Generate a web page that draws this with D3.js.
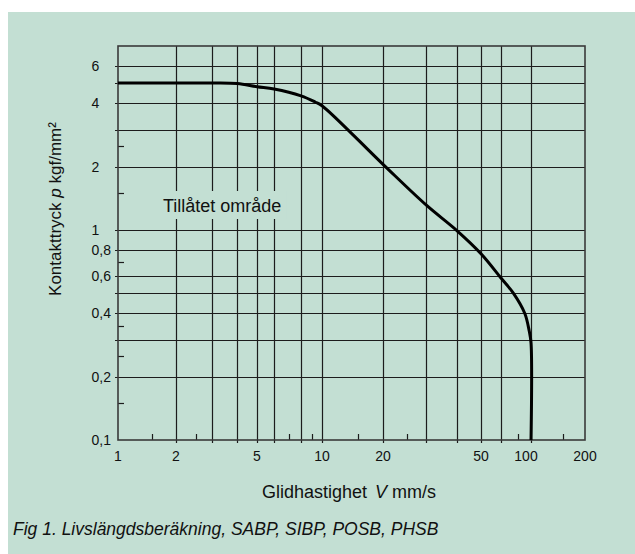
<!DOCTYPE html>
<html>
<head>
<meta charset="utf-8">
<script src="https://cdn.jsdelivr.net/npm/d3@7"></script>
<style>
  html, body { margin: 0; padding: 0; background: #ffffff; }
  svg { display: block; }
  text { font-family: "Liberation Sans", Arial, sans-serif; fill: #111111; }
</style>
</head>
<body>
<svg id="chart" width="635" height="554"></svg>
<script>
// ---- data ----
const xLabelValues = [1, 2, 5, 10, 20, 50, 100, 200];
const xGridValues  = [2, 3, 4, 5, 6, 8, 10, 20, 30, 40, 50, 60, 100];
const xMinorTicks  = [1.5, 2.5, 7, 9, 15, 25, 80, 150];
const yLabelValues = [0.1, 0.2, 0.4, 0.6, 0.8, 1, 2, 4, 6];
const yGridValues  = [0.2, 0.3, 0.4, 0.5, 0.6, 0.8, 1, 2, 3, 4, 5, 6];
const yMinorTicks  = [0.15, 0.25, 0.35, 0.7, 1.5, 2.5];
// permissible curve: sliding speed V (mm/s) vs contact pressure p (kgf/mm²)
const curveV = [1, 3, 4, 5, 6, 8, 9.3, 10, 20, 30, 40, 50, 60, 74, 90, 97, 100, 100];
const curveP = [5, 5, 4.97, 4.8, 4.68, 4.34, 4.06, 3.9, 2.05, 1.31, 0.99, 0.77, 0.59, 0.5, 0.4, 0.33, 0.29, 0.1];
const xTitle = "Glidhastighet";
const xTitleVar = "V";
const xTitleUnit = " mm/s";
const yTitle = "Kontakttryck ";
const yTitleVar = "p";
const yTitleUnit = " kgf/mm²";
const regionLabel = "Tillåtet område";
const caption = "Fig 1. Livslängdsberäkning, SABP, SIBP, POSB, PHSB";

// ---- layout ----
const W = 635, H = 554;
const plot = { left: 118, right: 585, top: 46, bottom: 440 };
const bg = "#c3dfd3";

const svg = d3.select("#chart");
svg.append("rect").attr("x", 8).attr("y", 12).attr("width", W - 8).attr("height", H - 12)
  .attr("fill", bg);

// the printed grid is not a perfectly regular log grid: calibrate with a piecewise log scale
const xAnchors = [1, 2, 5, 10, 20, 50, 60, 100, 200];
const xAnchorFrac = [0, 0.1242, 0.2976, 0.4368, 0.5675, 0.7773, 0.8201, 0.8844, 1];
const x = d3.scaleLog()
  .domain(xAnchors)
  .range(xAnchorFrac.map(f => plot.left + f * (plot.right - plot.left)));
const y = d3.scaleLog().domain([0.1, 7.5]).range([plot.bottom, plot.top]);

const fmt = v => String(v).replace(".", ",");
const gridColor = "#1c1c1c";

// vertical grid lines
svg.append("g").selectAll("line").data(xGridValues).join("line")
  .attr("x1", d => Math.round(x(d)) + 0.5).attr("x2", d => Math.round(x(d)) + 0.5)
  .attr("y1", plot.top).attr("y2", plot.bottom + 3)
  .attr("stroke", gridColor).attr("stroke-width", 1.2);

// horizontal grid lines
svg.append("g").selectAll("line").data(yGridValues).join("line")
  .attr("y1", d => Math.round(y(d)) + 0.5).attr("y2", d => Math.round(y(d)) + 0.5)
  .attr("x1", plot.left - 3).attr("x2", plot.right)
  .attr("stroke", gridColor).attr("stroke-width", 1.2);

// minor ticks
svg.append("g").selectAll("line").data(xMinorTicks).join("line")
  .attr("x1", d => Math.round(x(d)) + 0.5).attr("x2", d => Math.round(x(d)) + 0.5)
  .attr("y1", plot.bottom).attr("y2", plot.bottom - 6)
  .attr("stroke", gridColor).attr("stroke-width", 1.2);
svg.append("g").selectAll("line").data(yMinorTicks).join("line")
  .attr("y1", d => Math.round(y(d)) + 0.5).attr("y2", d => Math.round(y(d)) + 0.5)
  .attr("x1", plot.left).attr("x2", plot.left + 6)
  .attr("stroke", gridColor).attr("stroke-width", 1.2);

// frame
svg.append("rect")
  .attr("x", plot.left).attr("y", plot.top)
  .attr("width", plot.right - plot.left).attr("height", plot.bottom - plot.top)
  .attr("fill", "none").attr("stroke", "#3a3a3a").attr("stroke-width", 1.6);

// region label with background knock-out
const lab = svg.append("g");
const labText = lab.append("text").attr("x", 163).attr("y", 212)
  .attr("font-size", 18).text(regionLabel);
const bb = labText.node().getBBox();
lab.insert("rect", "text")
  .attr("x", bb.x - 5).attr("y", 191)
  .attr("width", bb.width + 10).attr("height", 28)
  .attr("fill", bg);

// curve
const line = d3.line()
  .x((d, i) => x(curveV[i]))
  .y((d, i) => y(curveP[i]))
  .curve(d3.curveCatmullRom.alpha(0.5));
svg.append("path").datum(curveV)
  .attr("d", line)
  .attr("fill", "none").attr("stroke", "#000").attr("stroke-width", 3)
  .attr("stroke-linejoin", "round");

// x tick labels
svg.append("g").selectAll("text").data(xLabelValues).join("text")
  .attr("x", d => x(d) - (d === 100 ? 5 : 0)).attr("y", 461)
  .attr("text-anchor", "middle").attr("font-size", 14)
  .text(d => fmt(d));

// y tick labels
svg.append("g").selectAll("text").data(yLabelValues).join("text")
  .attr("x", 91.5).attr("y", d => y(d) + 5)
  .attr("text-anchor", "start").attr("font-size", 14)
  .text(d => fmt(d));

// x title
const xt = svg.append("text").attr("x", 349).attr("y", 498)
  .attr("text-anchor", "middle").attr("font-size", 18);
xt.append("tspan").text(xTitle + " ");
xt.append("tspan").attr("font-style", "italic").attr("dx", 3).text(xTitleVar);
xt.append("tspan").text(xTitleUnit);

// y title
const yt = svg.append("text")
  .attr("transform", "translate(61,209) rotate(-90)")
  .attr("text-anchor", "middle").attr("font-size", 17);
yt.append("tspan").text(yTitle);
yt.append("tspan").attr("font-style", "italic").text(yTitleVar);
yt.append("tspan").text(yTitleUnit);

// caption
svg.append("text").attr("x", 13).attr("y", 535)
  .attr("font-size", 17.5).attr("font-style", "italic")
  .attr("fill", "#202020")
  .text(caption);
</script>
</body>
</html>
